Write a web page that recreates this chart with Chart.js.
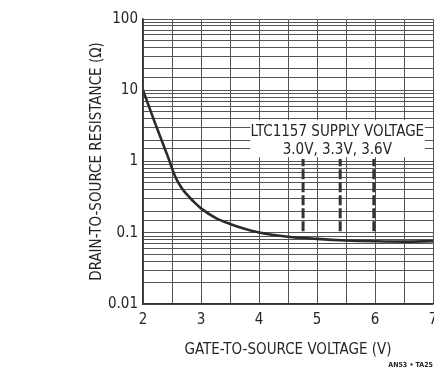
<!DOCTYPE html>
<html>
<head>
<meta charset="utf-8">
<script src="https://cdn.jsdelivr.net/npm/chart.js@4.4.1/dist/chart.umd.min.js"></script>
<style>
  html, body { margin: 0; padding: 0; background: #ffffff; }
  #wrap { width: 434px; height: 369px; position: relative; }
</style>
</head>
<body>
<div id="wrap"><canvas id="c" width="434" height="369"></canvas></div>
<script>
// ---- data ----
const gateVoltage = [2.0, 2.1, 2.2, 2.3, 2.4, 2.45, 2.5, 2.55, 2.6, 2.65, 2.7, 2.8, 2.9, 3.0, 3.25, 3.5, 3.75, 4.0, 4.5, 5.0, 5.5, 6.0, 6.5, 7.0];
const drainResistance = [10, 6.0, 3.6, 2.2, 1.35, 1.05, 0.80, 0.63, 0.52, 0.445, 0.39, 0.315, 0.26, 0.22, 0.162, 0.133, 0.114, 0.101, 0.088, 0.082, 0.078, 0.076, 0.075, 0.076];
const supplyLabels = ['3.0V', '3.3V', '3.6V'];
const supplyGateVoltage = [4.76, 5.40, 5.98];
const supplyMarkerRange = [0.105, 1.08];
const xTickValues = [2, 3, 4, 5, 6, 7];
const yTickValues = [0.01, 0.1, 1, 10, 100];
const yTickLabels = ['0.01', '0.1', '1', '10', '100'];
const annotationTitle = 'LTC1157 SUPPLY VOLTAGE';
const xAxisTitle = 'GATE-TO-SOURCE VOLTAGE (V)';
const yAxisTitle = 'DRAIN-TO-SOURCE RESISTANCE (\u03A9)';
const footnote = 'AN53 \u2022 TA25';

const FONT = "'Liberation Sans Narrow', 'DejaVu Sans Condensed', 'Liberation Sans', sans-serif";
const INK = '#262626';
const GRID = '#555555';

const curve = gateVoltage.map((v, i) => ({ x: v, y: drainResistance[i] }));
const markerSets = supplyGateVoltage.map((v, i) => ({
  label: supplyLabels[i],
  data: [{ x: v, y: supplyMarkerRange[0] }, { x: v, y: supplyMarkerRange[1] }],
  borderColor: '#333333',
  borderWidth: 3,
  borderDash: [10, 3],
  pointRadius: 0,
  showLine: true,
  fill: false
}));

const annotationPlugin = {
  id: 'annot',
  beforeDatasetsDraw(chart) {
    const { ctx, scales: { x, y } } = chart;
    ctx.save();
    const x0 = x.getPixelForValue(3.85), x1 = x.getPixelForValue(6.86);
    const y0 = y.getPixelForValue(3.8), y1 = y.getPixelForValue(1.15);
    ctx.fillStyle = '#ffffff';
    ctx.fillRect(x0, y0, x1 - x0, y1 - y0);
    ctx.fillStyle = INK;
    ctx.font = "15px " + FONT;
    ctx.textAlign = 'center';
    ctx.textBaseline = 'middle';
    const cx = x.getPixelForValue(5.35);
    ctx.fillText(annotationTitle, cx, y.getPixelForValue(2.6));
    ctx.fillText(supplyLabels.join(', '), cx, y.getPixelForValue(1.44));
    ctx.restore();
  },
  afterDraw(chart) {
    const { ctx } = chart;
    ctx.save();
    ctx.fillStyle = INK;
    ctx.font = "bold 7px " + FONT;
    ctx.textAlign = 'right';
    ctx.textBaseline = 'middle';
    ctx.fillText(footnote, 433, 365);
    ctx.restore();
  }
};

new Chart(document.getElementById('c'), {
  type: 'scatter',
  data: {
    datasets: [
      {
        label: 'RDS(ON)',
        data: curve,
        borderColor: '#2b2b2b',
        borderWidth: 2.6,
        pointRadius: 0,
        showLine: true,
        cubicInterpolationMode: 'monotone',
        fill: false
      },
      ...markerSets
    ]
  },
  options: {
    responsive: false,
    animation: false,
    devicePixelRatio: 1,
    layout: { padding: { left: 85, right: 1, top: 19, bottom: 0 } },
    plugins: { legend: { display: false }, tooltip: { enabled: false } },
    scales: {
      x: {
        type: 'linear',
        min: 2, max: 7,
        afterFit(s) { s.height = 65; s.paddingLeft = 0; s.paddingRight = 0; },
        ticks: {
          stepSize: 0.5,
          autoSkip: false,
          maxRotation: 0,
          padding: 7,
          color: INK,
          font: { family: FONT, size: 15 },
          callback: (v) => xTickValues.includes(v) ? String(v) : ''
        },
        grid: { color: GRID, lineWidth: 1, drawTicks: false },
        border: { color: '#333', width: 1.5 },
        title: {
          display: true, text: xAxisTitle, color: INK,
          font: { family: FONT, size: 15 },
          padding: { top: 0, bottom: 10 }
        }
      },
      y: {
        type: 'logarithmic',
        min: 0.01, max: 100,
        afterFit(s) { s.width = 58; s.paddingTop = 0; s.paddingBottom = 0; },
        ticks: {
          autoSkip: false,
          padding: 5,
          color: INK,
          font: { family: FONT, size: 15 },
          callback: (v) => {
            const i = yTickValues.findIndex(t => Math.abs(t - v) < t * 1e-6);
            return i >= 0 ? yTickLabels[i] : '';
          }
        },
        grid: { color: GRID, lineWidth: 1, drawTicks: false },
        border: { color: '#333', width: 1.5 },
        title: {
          display: true, text: yAxisTitle, color: INK,
          font: { family: FONT, size: 15 },
          padding: { top: 3, bottom: 0 }
        }
      }
    }
  },
  plugins: [annotationPlugin]
});
</script>
</body>
</html>
